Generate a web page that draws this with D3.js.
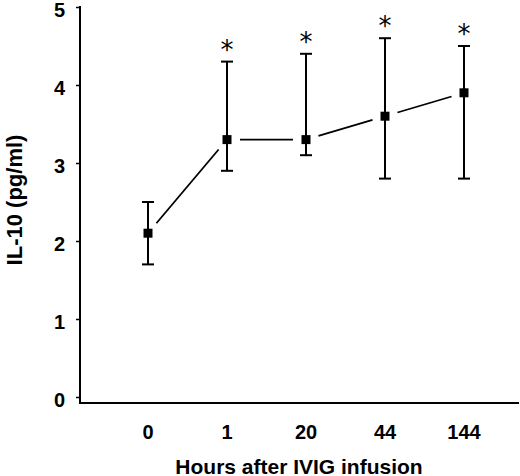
<!DOCTYPE html>
<html>
<head>
<meta charset="utf-8">
<script src="https://cdn.jsdelivr.net/npm/d3@7"></script>
<style>
  body { margin: 0; background: #fff; }
  text { font-family: "Liberation Sans", Arial, sans-serif; }
</style>
</head>
<body>
<div id="chart"></div>
<script>
// Données
const hours = ["0", "1", "20", "44", "144"];
const means = [2.1, 3.3, 3.3, 3.6, 3.9];
const lower = [1.7, 2.9, 3.1, 2.8, 2.8];
const upper = [2.5, 4.3, 4.4, 4.6, 4.5];
const significant = [false, true, true, true, true];
const yTicks = [0, 1, 2, 3, 4, 5];

const width = 520;
const height = 476;
const margin = { top: 7, right: 1, bottom: 79, left: 80 };

const svg = d3.select("#chart")
  .append("svg")
  .attr("width", width)
  .attr("height", height);

const data = hours.map((h, i) => ({
  hour: h, mean: means[i], lo: lower[i], hi: upper[i], star: significant[i]
}));

const x = d3.scalePoint()
  .domain(hours)
  .range([margin.left + 68, width - 56]);

const y = d3.scaleLinear()
  .domain([0, 5])
  .range([height - margin.bottom, margin.top]);

const xAxisY = y(0) + 6;

// Axe Y
const yAxis = svg.append("g")
  .attr("transform", `translate(${margin.left},0)`)
  .call(d3.axisLeft(y).tickValues(yTicks).tickSize(4).tickPadding(11).tickFormat(d3.format("d")));
yAxis.select(".domain").remove();
yAxis.selectAll(".tick line").attr("stroke-width", 1.5);
yAxis.selectAll(".tick text")
  .attr("dy", "0.45em")
  .style("font-size", "20px")
  .style("font-weight", "bold")
  .attr("fill", "#000");

svg.append("line")
  .attr("x1", margin.left).attr("x2", margin.left)
  .attr("y1", y(5) - 1).attr("y2", xAxisY)
  .attr("stroke", "#000").attr("stroke-width", 2);

// Axe X (sans graduations)
svg.append("line")
  .attr("x1", margin.left - 1).attr("x2", width - margin.right)
  .attr("y1", xAxisY).attr("y2", xAxisY)
  .attr("stroke", "#000").attr("stroke-width", 2);

svg.append("g")
  .selectAll("text")
  .data(hours)
  .join("text")
  .attr("x", d => x(d))
  .attr("y", 439)
  .attr("text-anchor", "middle")
  .style("font-size", "20px")
  .style("font-weight", "bold")
  .text(d => d);

// Segments de liaison, interrompus près des marqueurs
const gap = 13;
const segs = d3.pairs(data).map(([a, b]) => {
  const x1 = x(a.hour), y1 = y(a.mean), x2 = x(b.hour), y2 = y(b.mean);
  const len = Math.hypot(x2 - x1, y2 - y1);
  const ux = (x2 - x1) / len, uy = (y2 - y1) / len;
  return { x1: x1 + ux * gap, y1: y1 + uy * gap, x2: x2 - ux * gap, y2: y2 - uy * gap };
});
svg.append("g")
  .selectAll("line")
  .data(segs)
  .join("line")
  .attr("x1", d => d.x1).attr("y1", d => d.y1)
  .attr("x2", d => d.x2).attr("y2", d => d.y2)
  .attr("stroke", "#000").attr("stroke-width", 1.8);

// Barres d'erreur
const eb = svg.append("g").attr("stroke", "#000").attr("stroke-width", 2);
eb.selectAll(".v")
  .data(data).join("line")
  .attr("x1", d => x(d.hour)).attr("x2", d => x(d.hour))
  .attr("y1", d => y(d.lo)).attr("y2", d => y(d.hi));
eb.selectAll(".cap")
  .data(data.flatMap(d => [{ h: d.hour, v: d.lo }, { h: d.hour, v: d.hi }]))
  .join("line")
  .attr("x1", d => x(d.h) - 6).attr("x2", d => x(d.h) + 6)
  .attr("y1", d => y(d.v)).attr("y2", d => y(d.v));

// Marqueurs carrés
const ms = 9;
svg.append("g")
  .selectAll("rect")
  .data(data)
  .join("rect")
  .attr("x", d => x(d.hour) - ms / 2)
  .attr("y", d => y(d.mean) - ms / 2)
  .attr("width", ms)
  .attr("height", ms)
  .attr("fill", "#000");

// Astérisques, ~17 px au-dessus de la barre haute
svg.append("g")
  .selectAll("text")
  .data(data.filter(d => d.star))
  .join("text")
  .attr("x", d => x(d.hour))
  .attr("y", d => y(d.hi) - 3)
  .attr("text-anchor", "middle")
  .style("font-family", "'DejaVu Sans', sans-serif")
  .style("font-size", "26px")
  .text("*");

// Titres des axes
svg.append("text")
  .attr("x", 299)
  .attr("y", 474)
  .attr("text-anchor", "middle")
  .style("font-size", "21px")
  .style("font-weight", "bold")
  .text("Hours after IVIG infusion");

svg.append("text")
  .attr("transform", "translate(22,200) rotate(-90)")
  .attr("text-anchor", "middle")
  .style("font-size", "22px")
  .style("font-weight", "bold")
  .text("IL-10 (pg/ml)");
</script>
</body>
</html>
